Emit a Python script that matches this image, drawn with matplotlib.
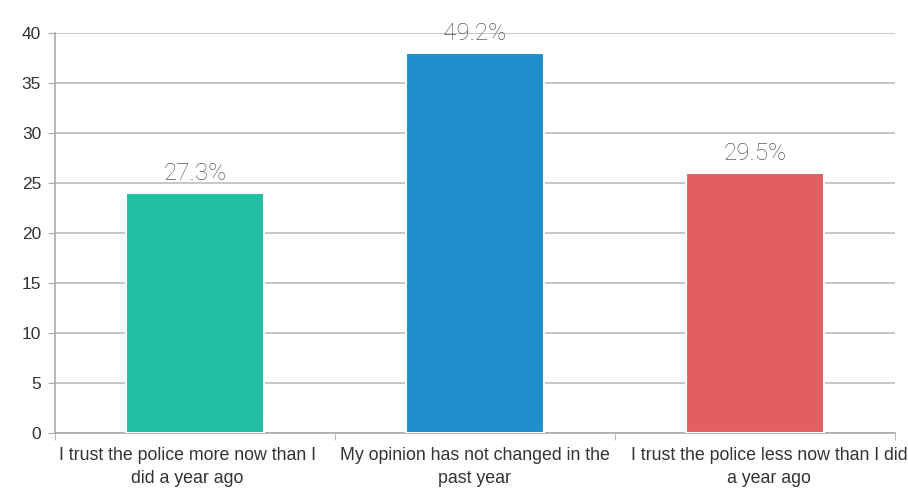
import matplotlib
matplotlib.use("Agg")
import matplotlib.pyplot as plt
from matplotlib.transforms import ScaledTranslation

categories = [
    "I trust the police more now than I\ndid a year ago",
    "My opinion has not changed in the\npast year",
    "I trust the police less now than I did\na year ago",
]
counts = [24, 38, 26]
percent_labels = ["27.3%", "49.2%", "29.5%"]
colors = ["#21BFA2", "#1F8ECB", "#E35E5F"]

plt.rcParams["font.family"] = ["Liberation Sans", "DejaVu Sans"]

fig = plt.figure(figsize=(9.08, 4.92), dpi=100)
ax = fig.add_axes([0.0606, 0.120, 0.925, 0.813])

x = list(range(len(categories)))
ax.bar(x, counts, width=0.49, color=colors, edgecolor="white", linewidth=1.5, zorder=3)

# percentage labels above each bar
for xi, c, lab in zip(x, counts, percent_labels):
    ax.text(xi, c + 0.8, lab, ha="center", va="bottom", fontsize=17.5,
            color="#5a5a5a", family=["Roboto", "DejaVu Sans"], fontweight="light")

ax.set_xlim(-0.5, 2.5)
ax.set_ylim(0, 40)
ax.set_yticks(range(0, 41, 5))
ax.yaxis.grid(True, color="#bdbdbd", linewidth=1.2, zorder=0)
ax.set_axisbelow(True)

# category labels, ticks at category boundaries
ax.set_xticks(x)
ax.set_xticklabels(categories, fontsize=12.8, color="#333333", linespacing=1.45)
ax.tick_params(axis="x", length=0, pad=10)
shifts = [-8, 0, 14]
for lbl, dx in zip(ax.get_xticklabels(), shifts):
    lbl.set_transform(lbl.get_transform() + ScaledTranslation(dx / 100, 0, fig.dpi_scale_trans))
ax.set_xticks([-0.5, 0.5, 1.5, 2.5], minor=True)
ax.tick_params(axis="x", which="minor", length=5, color="#aaaaaa", direction="out")
ax.tick_params(axis="y", length=5, color="#aaaaaa", labelsize=12.5, labelcolor="#333333", pad=5)

for side in ["top", "right"]:
    ax.spines[side].set_visible(False)
for side in ["left", "bottom"]:
    ax.spines[side].set_color("#aaaaaa")
    ax.spines[side].set_linewidth(1.2)

fig.savefig("out.png", dpi=100)
